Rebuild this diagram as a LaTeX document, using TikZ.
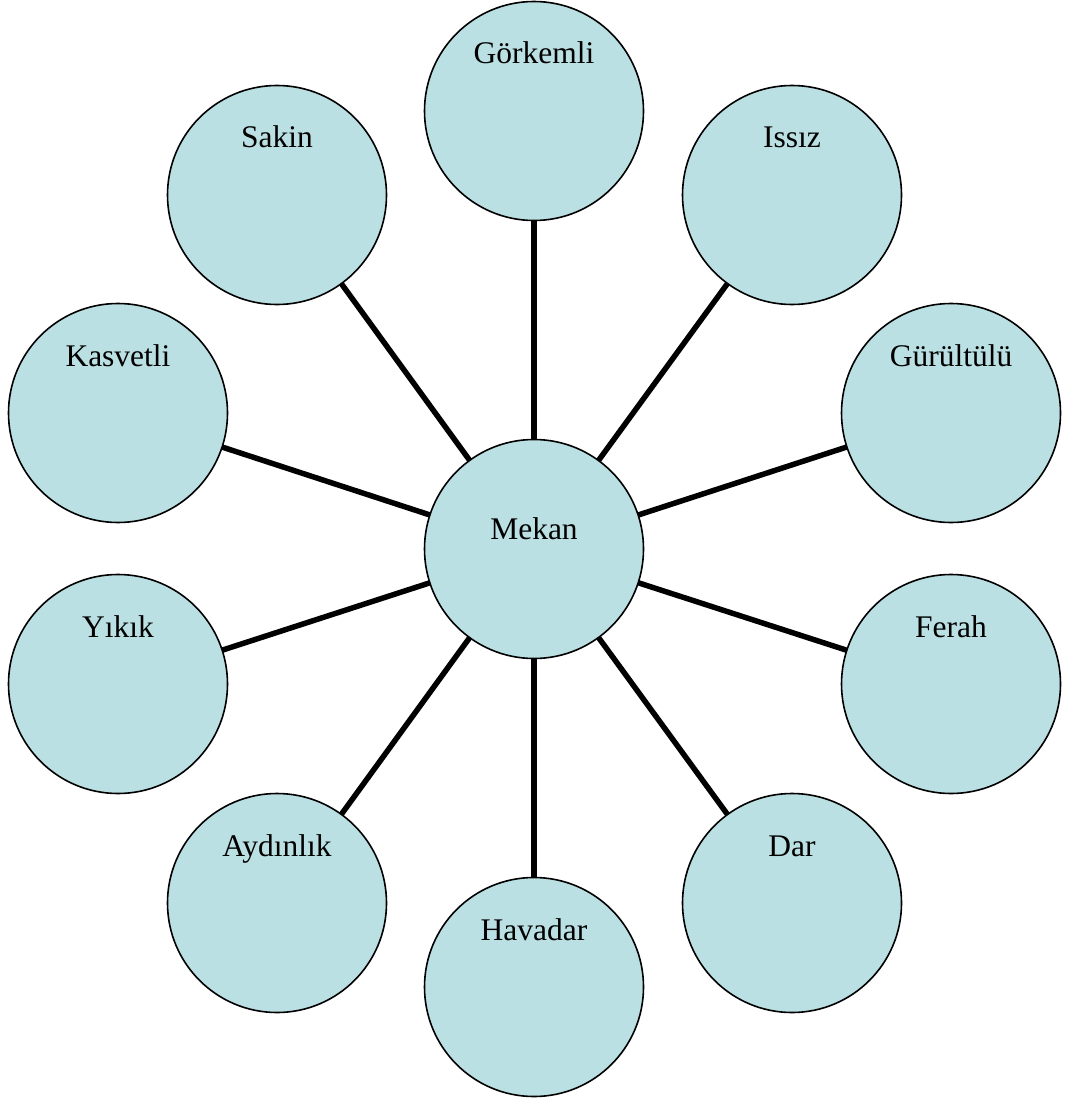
\documentclass[tikz,border=0pt]{standalone}
\usepackage{fontspec}
\setmainfont{Liberation Serif}
\usetikzlibrary{backgrounds}
\definecolor{bubfill}{RGB}{187,224,227}
\begin{document}
\begin{tikzpicture}[x=1pt,y=-1pt,
  bub/.style={circle,draw=black,line width=1.6pt,fill=bubfill,minimum size=219pt,inner sep=0pt},
  lbl/.style={font=\fontsize{31.5}{36}\selectfont,text=black,inner sep=0pt,anchor=base},
  conn/.style={line width=5.5pt,draw=black}]
\useasboundingbox (0,0) rectangle (1069,1099);
\node[bub] (m) at (534,549) {};
\node[bub] (g) at (534,111) {};
\node[bub] (i) at (792,195) {};
\node[bub] (gu) at (951,413) {};
\node[bub] (f) at (951,684) {};
\node[bub] (d) at (792,903) {};
\node[bub] (h) at (534,987) {};
\node[bub] (a) at (277,903) {};
\node[bub] (y) at (118,684) {};
\node[bub] (k) at (118,413) {};
\node[bub] (s) at (277,195) {};
\node[lbl] (mt) at ([yshift=10pt]m.center) {Mekan};
\node[lbl] (gt) at ([yshift=47pt]g.center) {Görkemli};
\node[lbl] (it) at ([yshift=47pt]i.center) {Issız};
\node[lbl] (gut) at ([yshift=47pt]gu.center) {Gürültülü};
\node[lbl] (ft) at ([yshift=47pt]f.center) {Ferah};
\node[lbl] (dt) at ([yshift=47pt]d.center) {Dar};
\node[lbl] (ht) at ([yshift=47pt]h.center) {Havadar};
\node[lbl] (at) at ([yshift=47pt]a.center) {Aydınlık};
\node[lbl] (yt) at ([yshift=47pt]y.center) {Yıkık};
\node[lbl] (kt) at ([yshift=47pt]k.center) {Kasvetli};
\node[lbl] (st) at ([yshift=47pt]s.center) {Sakin};
\begin{scope}[on background layer]
\foreach \n in {g,i,gu,f,d,h,a,y,k,s}
  \draw[conn] (m.center) -- (\n.center);
\end{scope}
\end{tikzpicture}
\end{document}
